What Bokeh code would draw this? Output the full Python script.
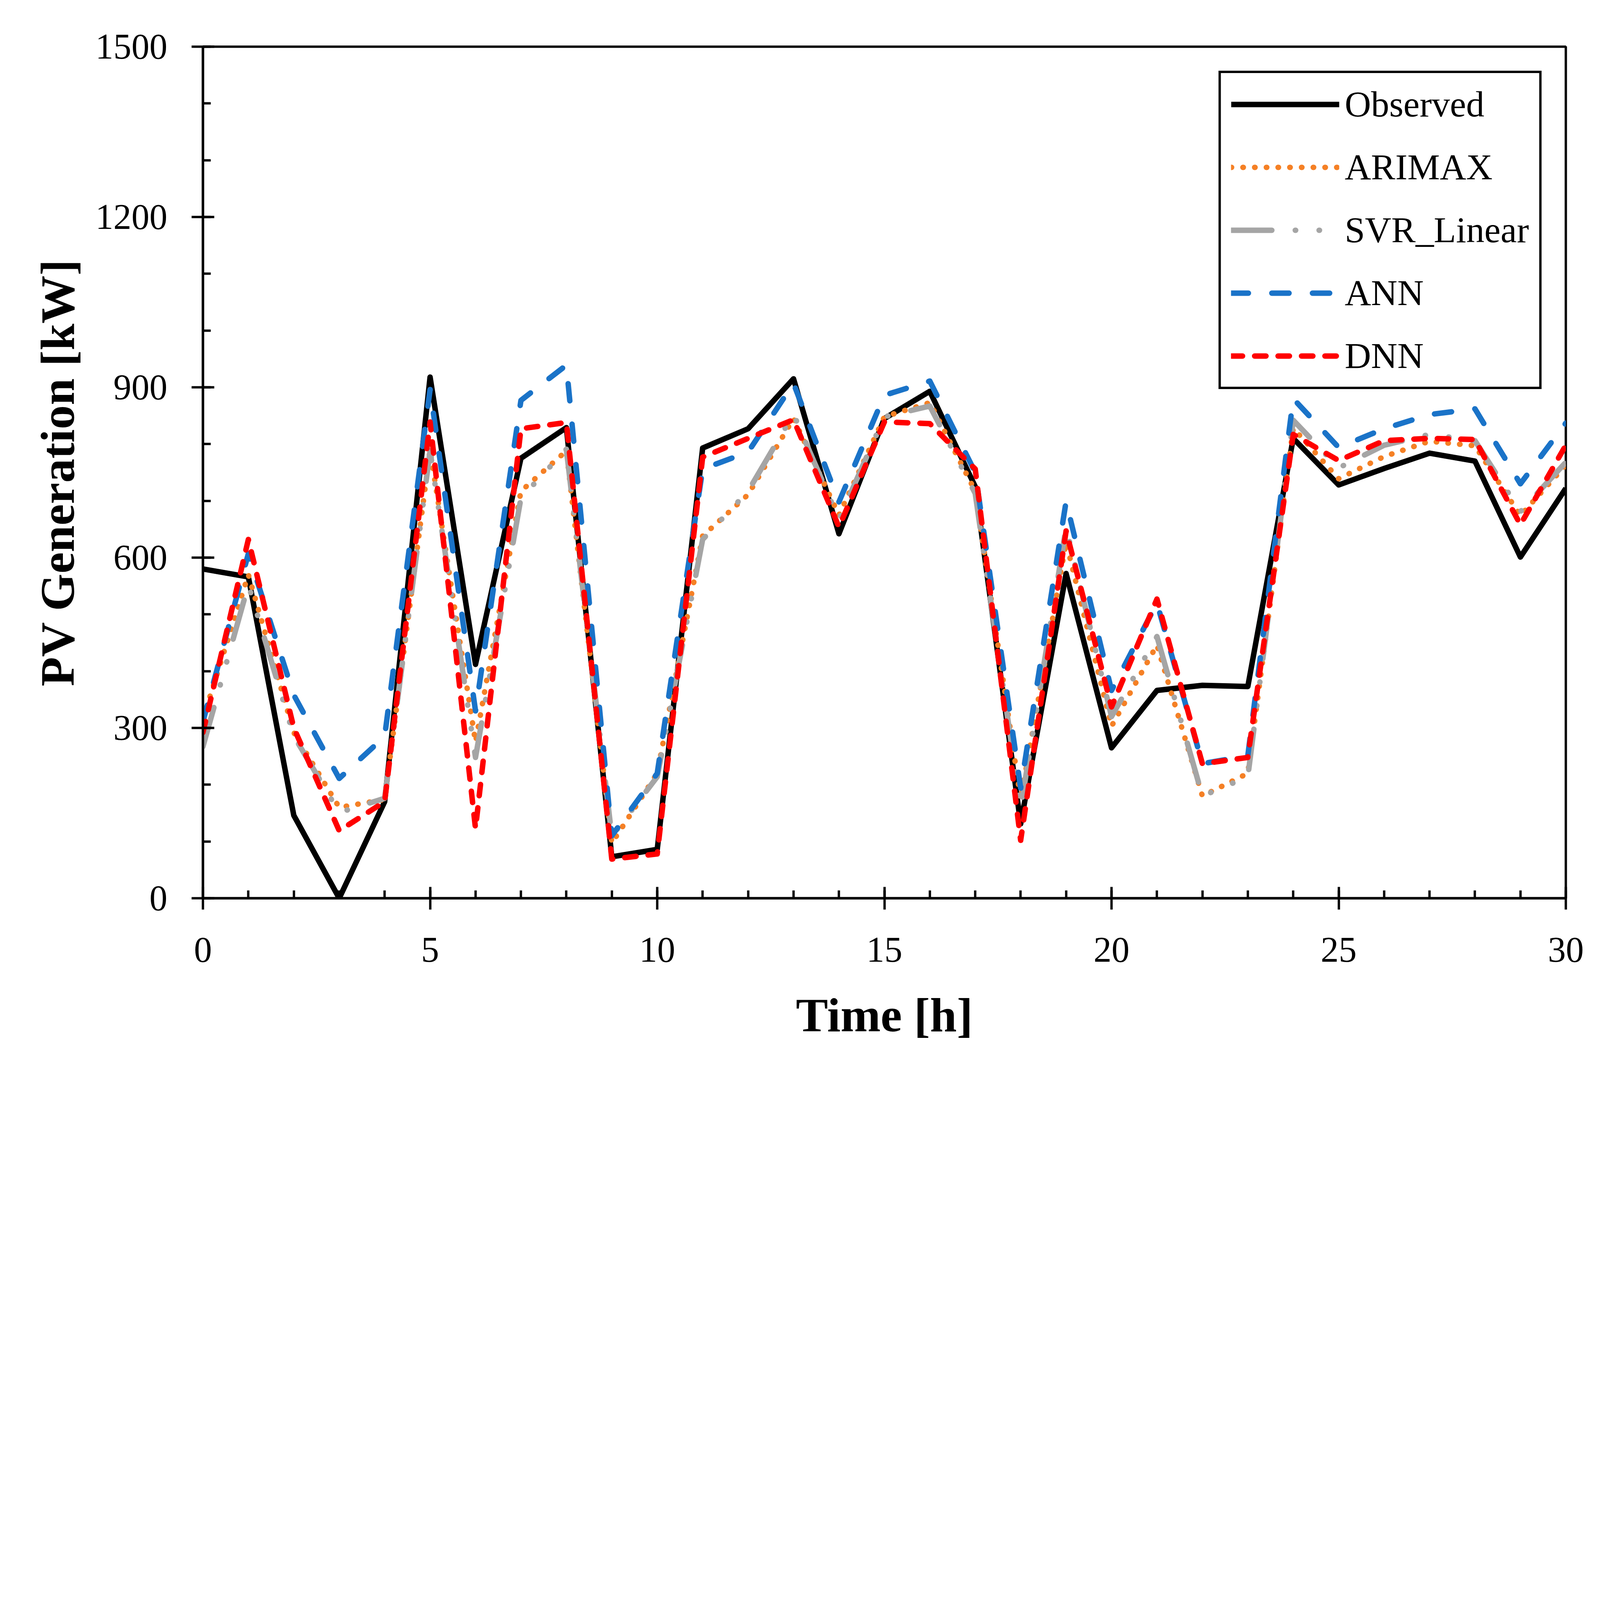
from bokeh.plotting import figure
from bokeh.models import Range1d, SingleIntervalTicker, Legend
from bokeh.embed import file_html
from bokeh.resources import INLINE

hours = list(range(31))
observed = [580, 566, 146, 0, 170, 918, 412, 775, 829, 73, 86, 793, 827, 915, 642, 845,
            893, 725, 131, 572, 265, 366, 375, 373, 810, 728, 757, 784, 770, 601, 722]
arimax = [316, 570, 292, 160, 174, 790, 275, 717, 788, 97, 220, 638, 711, 845, 675, 848,
          873, 717, 174, 627, 303, 446, 180, 220, 828, 739, 778, 805, 797, 674, 763]
svr_linear = [267, 552, 286, 151, 176, 788, 248, 705, 791, 109, 214, 632, 717, 853, 667, 848,
              867, 713, 159, 653, 320, 461, 180, 214, 842, 758, 798, 817, 806, 681, 768]
ann = [311, 607, 358, 211, 285, 896, 330, 877, 939, 110, 220, 756, 786, 907, 698, 886,
       911, 750, 194, 699, 366, 520, 237, 251, 880, 794, 827, 852, 862, 730, 837]
dnn = [292, 632, 300, 119, 170, 839, 123, 827, 838, 69, 78, 777, 810, 843, 654, 839,
       836, 756, 102, 647, 337, 527, 237, 248, 817, 771, 806, 810, 808, 658, 798]

FONT = "Liberation Serif"
S = 0.622  # overall scale of the layout


def px(v):
    return int(round(v * S))


def fs(v):
    return f"{v * S:.1f}px"


def dash(*vals):
    return " ".join(str(max(1, px(v))) for v in vals)


p = figure(width=px(6557), height=px(4441),
           min_border_left=px(834), min_border_right=px(112),
           min_border_top=px(192), min_border_bottom=px(744),
           x_range=Range1d(0, 30), y_range=Range1d(0, 1500),
           output_backend="svg", toolbar_location=None)
p.xgrid.visible = False
p.ygrid.visible = False
p.outline_line_color = "black"
p.outline_line_alpha = 1.0
p.outline_line_width = px(10)
p.background_fill_color = "white"
p.border_fill_color = "white"

p.xaxis.ticker = SingleIntervalTicker(interval=5, num_minor_ticks=5)
p.yaxis.ticker = SingleIntervalTicker(interval=300, num_minor_ticks=3)

for ax in (p.xaxis[0], p.yaxis[0]):
    ax.axis_line_width = px(10)
    ax.major_tick_line_width = px(10)
    ax.minor_tick_line_width = px(10)
    ax.major_tick_in = px(47)
    ax.major_tick_out = px(47)
    ax.minor_tick_in = px(32)
    ax.minor_tick_out = 0
    ax.major_label_text_font = FONT
    ax.major_label_text_font_size = fs(148)
    ax.major_label_text_color = "black"
    ax.axis_label_text_font = FONT
    ax.axis_label_text_font_style = "bold"
    ax.axis_label_text_font_size = fs(198)
    ax.axis_label_text_color = "black"

p.xaxis.axis_label = "Time [h]"
p.yaxis.axis_label = "PV Generation [kW]"
p.xaxis.major_label_standoff = px(116)
p.yaxis.major_label_standoff = px(100)
p.xaxis.axis_label_standoff = px(105)
p.yaxis.axis_label_standoff = px(40)

LW = px(22)
r_obs = p.line(hours, observed, line_color="black", line_width=LW, line_join="round")
r_ari = p.line(hours, arimax, line_color="#F58025", line_width=LW, line_dash=dash(1, 47),
               line_cap="round", line_join="round")
r_svr = p.line(hours, svr_linear, line_color="#A5A5A5", line_width=LW,
               line_dash=dash(168, 96, 1, 96, 1, 96), line_cap="round", line_join="round")
r_ann = p.line(hours, ann, line_color="#1A73C8", line_width=LW, line_dash=dash(70, 96),
               line_cap="round", line_join="round")
r_dnn = p.line(hours, dnn, line_color="#FF0000", line_width=LW, line_dash=dash(47, 50),
               line_cap="round", line_join="round")

legend = Legend(items=[("Observed", [r_obs]), ("ARIMAX", [r_ari]), ("SVR_Linear", [r_svr]),
                       ("ANN", [r_ann]), ("DNN", [r_dnn])],
                location="top_right")
legend.label_text_font = FONT
legend.label_text_font_size = fs(150)
legend.label_text_color = "black"
legend.border_line_color = "black"
legend.border_line_alpha = 1.0
legend.border_line_width = px(10)
legend.background_fill_color = "white"
legend.background_fill_alpha = 1.0
legend.glyph_width = px(445)
legend.glyph_height = px(110)
legend.label_height = px(110)
legend.label_standoff = px(23)
legend.padding = px(42)
legend.spacing = px(87)
legend.margin = px(100)
p.add_layout(legend, "center")

open("out.html", "w").write(file_html(p, INLINE))
